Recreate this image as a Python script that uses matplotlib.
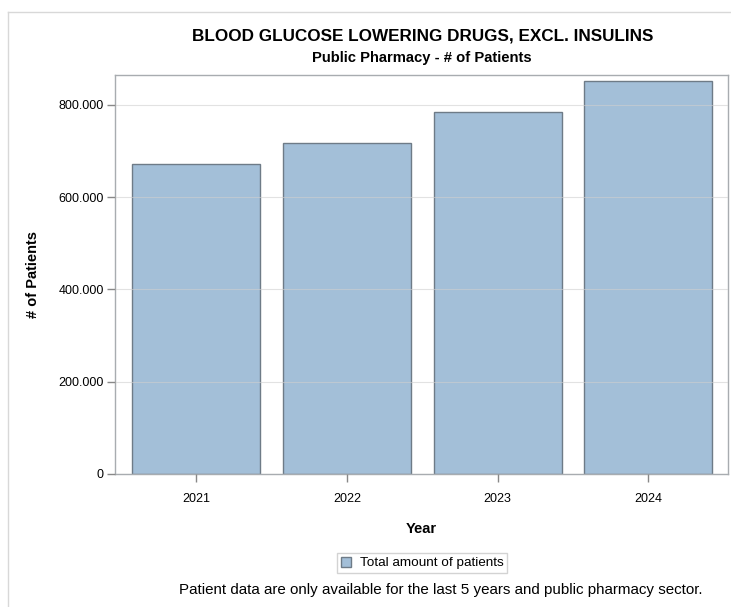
import matplotlib
matplotlib.use("Agg")
import matplotlib.pyplot as plt
from matplotlib.ticker import FuncFormatter
from matplotlib.patches import Patch
from matplotlib.lines import Line2D

years = ["2021", "2022", "2023", "2024"]
patients = [672000, 718000, 784000, 852000]
yticks = [0, 200000, 400000, 600000, 800000]

plt.rcParams['font.family'] = ['Liberation Sans', 'DejaVu Sans']

W, H = 731, 607
fig = plt.figure(figsize=(W / 100, H / 100), dpi=100)
L, R, T, B = 115, 728, 75, 474
ax = fig.add_axes([L / W, 1 - B / H, (R - L) / W, (B - T) / H])

fill = '#a3bfd8'
edge = '#6e7b87'
x = list(range(len(years)))
ax.bar(x, patients, width=0.85, color=fill, edgecolor=edge, linewidth=1.0, zorder=2)

ax.set_xlim(-0.54, 3.53)
ax.set_ylim(0, 865000)
ax.set_xticks(x)
ax.set_xticklabels(years)
ax.set_yticks(yticks)
ax.yaxis.set_major_formatter(FuncFormatter(lambda v, p: f"{int(v):,}".replace(",", ".")))
ax.yaxis.grid(True, color='#cfcfcf', linewidth=0.8, alpha=0.6, zorder=3)
ax.set_axisbelow(False)
for s in ax.spines.values():
    s.set_color('#a8acb0')
    s.set_linewidth(1.0)
ax.tick_params(axis='both', colors='#888888', labelcolor='black', labelsize=9, length=6, width=1)
ax.tick_params(axis='x', pad=8)
ax.tick_params(axis='y', pad=2)

ax.set_xlabel("Year", fontsize=10.5, fontweight='bold')
ax.xaxis.set_label_coords(0.5, -(529 - B) / (B - T), transform=ax.transAxes)
ax.xaxis.label.set_va('center')
ax.set_ylabel("# of Patients", fontsize=10.5, fontweight='bold')
ax.yaxis.set_label_coords(-(L - 33) / (R - L), 0.5, transform=ax.transAxes)
ax.yaxis.label.set_va('center')

cx = (L + R) / 2 / W
fig.text(423 / W, 1 - 36 / H, "BLOOD GLUCOSE LOWERING DRUGS, EXCL. INSULINS", ha='center', va='center',
         fontsize=12.35, fontweight='bold')
fig.text(421.5 / W, 1 - 58 / H, "Public Pharmacy - # of Patients", ha='center', va='center',
         fontsize=10.6, fontweight='bold')

leg = fig.legend(handles=[Patch(facecolor=fill, edgecolor=edge, label="Total amount of patients")],
                 loc='center', bbox_to_anchor=(422 / W, 1 - 563 / H), fontsize=9.7, frameon=True,
                 fancybox=False, handlelength=0.8, handleheight=0.8, handletextpad=0.6,
                 borderpad=0.3)
leg.get_frame().set_edgecolor('#c8c8c8')
leg.get_frame().set_linewidth(1.0)

fig.text(441 / W, 1 - 590 / H, "Patient data are only available for the last 5 years and public pharmacy sector.",
         ha='center', va='center', fontsize=10.9)

# outer frame
fig.add_artist(Line2D([8 / W, 8 / W], [0, 1 - 12 / H], transform=fig.transFigure, color='#d8d8d8', linewidth=1))
fig.add_artist(Line2D([8 / W, 1], [1 - 12 / H, 1 - 12 / H], transform=fig.transFigure, color='#d8d8d8', linewidth=1))

fig.savefig("out.png", dpi=100)
